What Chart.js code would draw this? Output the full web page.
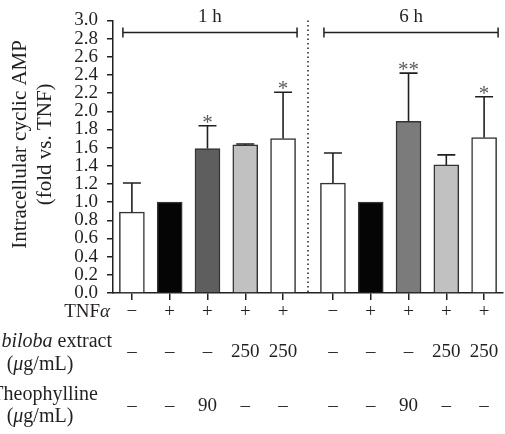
<!DOCTYPE html>
<html>
<head>
<meta charset="utf-8">
<script src="https://cdn.jsdelivr.net/npm/chart.js@4"></script>
<style>
  html, body { margin: 0; padding: 0; background: #fff; }
  #wrap { width: 505px; height: 434px; }
</style>
</head>
<body>
<div id="wrap"><canvas id="grafico"></canvas></div>
<script>
// datos
const grupos = ['1 h', '6 h'];
const tnf = ['−', '+', '+', '+', '+', '−', '+', '+', '+', '+'];
const ginkgo = ['–', '–', '–', '250', '250', '–', '–', '–', '250', '250'];
const teofilina = ['–', '–', '90', '–', '–', '–', '–', '90', '–', '–'];
const medias = [0.89, 1.0, 1.59, 1.63, 1.70, 1.21, 1.0, 1.89, 1.41, 1.71];
const errores = [0.32, 0, 0.25, 0.01, 0.51, 0.33, 0, 0.53, 0.11, 0.45];
const significancia = ['', '', '*', '', '*', '', '', '**', '', '*'];
const colores = ['#ffffff', '#050505', '#5e5e5e', '#c1c1c1', '#ffffff',
                 '#ffffff', '#050505', '#7b7b7b', '#c1c1c1', '#ffffff'];
const tituloY = ['Intracellular cyclic AMP', '(fold vs. TNF)'];

const porGrupo = 5;
const hueco = 0.32;
const posX = medias.map((_, i) => i + (i >= porGrupo ? hueco : 0));
const tinta = '#231f20';
const serif = '"Liberation Serif", "Times New Roman", serif';

function fuente(cursiva, size) {
  return (cursiva ? 'italic ' : '') + size + 'px ' + serif;
}

function textoMixto(ctx, partes, x, y, align, size) {
  let ancho = 0;
  partes.forEach(p => { ctx.font = fuente(p[1], size); ancho += ctx.measureText(p[0]).width; });
  let x0 = align === 'right' ? x - ancho : x - ancho / 2;
  ctx.textAlign = 'left';
  ctx.textBaseline = 'middle';
  partes.forEach(p => {
    ctx.font = fuente(p[1], size);
    ctx.fillText(p[0], x0, y);
    x0 += ctx.measureText(p[0]).width;
  });
}

const extras = {
  id: 'extras',
  afterDatasetsDraw(chart) {
    const ctx = chart.ctx;
    const xs = chart.scales.x, ys = chart.scales.y;
    const area = chart.chartArea;
    ctx.save();

    // barras de error (solo hacia arriba)
    ctx.strokeStyle = tinta;
    ctx.lineWidth = 1.6;
    medias.forEach((m, i) => {
      if (!errores[i]) return;
      const px = xs.getPixelForValue(posX[i]);
      const base = ys.getPixelForValue(m);
      const top = ys.getPixelForValue(m + errores[i]);
      ctx.beginPath();
      ctx.moveTo(px, base); ctx.lineTo(px, top);
      ctx.moveTo(px - 9, top); ctx.lineTo(px + 9, top);
      ctx.stroke();
    });

    // asteriscos
    ctx.fillStyle = '#5a5a5a';
    ctx.font = fuente(false, 21);
    ctx.textAlign = 'center';
    ctx.textBaseline = 'alphabetic';
    significancia.forEach((s, i) => {
      if (!s) return;
      const px = xs.getPixelForValue(posX[i]);
      const top = ys.getPixelForValue(medias[i] + errores[i]);
      ctx.fillText(s, px, top + 3);
    });

    // separador punteado
    const sep = (xs.getPixelForValue(posX[porGrupo - 1]) + xs.getPixelForValue(posX[porGrupo])) / 2;
    ctx.strokeStyle = tinta;
    ctx.lineWidth = 1.5;
    ctx.setLineDash([1.5, 3]);
    ctx.beginPath();
    ctx.moveTo(sep, area.top); ctx.lineTo(sep, area.bottom);
    ctx.stroke();
    ctx.setLineDash([]);

    // corchetes de tiempo
    ctx.lineWidth = 1.5;
    grupos.forEach((g, k) => {
      const x1 = xs.getPixelForValue(posX[k * porGrupo]) - 9;
      const x2 = xs.getPixelForValue(posX[k * porGrupo + porGrupo - 1]) + 14;
      const yb = area.top + 12;
      ctx.beginPath();
      ctx.moveTo(x1, yb); ctx.lineTo(x2, yb);
      ctx.moveTo(x1, yb - 5); ctx.lineTo(x1, yb + 5);
      ctx.moveTo(x2, yb - 5); ctx.lineTo(x2, yb + 5);
      ctx.stroke();
      ctx.fillStyle = tinta;
      ctx.font = fuente(false, 19);
      ctx.textAlign = 'center';
      ctx.textBaseline = 'middle';
      ctx.fillText(g, (x1 + x2) / 2, area.top - 3);
    });
    ctx.restore();
  },
  afterDraw(chart) {
    const ctx = chart.ctx;
    const area = chart.chartArea;
    ctx.save();
    ctx.fillStyle = tinta;

    // título del eje y
    ctx.font = fuente(false, 21);
    ctx.textAlign = 'center';
    ctx.textBaseline = 'middle';
    tituloY.forEach((t, k) => {
      ctx.save();
      ctx.translate(20 + k * 25, area.top + 124);
      ctx.rotate(-Math.PI / 2);
      ctx.fillText(t, 0, 0);
      ctx.restore();
    });

    // etiquetas de las filas de la tabla
    const b = area.bottom;
    textoMixto(ctx, [['TNF', false], ['α', true]], area.left - 3, b + 19, 'right', 19);
    textoMixto(ctx, [['Ginkgo biloba', true], [' extract', false]], area.left - 1, b + 49, 'right', 20);
    textoMixto(ctx, [['(', false], ['μ', true], ['g/mL)', false]], 40, b + 72, 'center', 20);
    textoMixto(ctx, [['Theophylline', false]], area.left - 15, b + 102, 'right', 20);
    textoMixto(ctx, [['(', false], ['μ', true], ['g/mL)', false]], 40, b + 124, 'center', 20);
    ctx.restore();
  }
};

new Chart(document.getElementById('grafico'), {
  type: 'bar',
  data: {
    datasets: [{
      data: medias.map((m, i) => ({ x: posX[i], y: m })),
      backgroundColor: colores,
      borderColor: '#333',
      borderWidth: 1.5,
      borderSkipped: 'bottom',
      barThickness: 25
    }]
  },
  options: {
    responsive: true,
    maintainAspectRatio: false,
    animation: false,
    layout: { padding: { top: 20, right: 2, left: 0, bottom: 0 } },
    plugins: {
      legend: { display: false },
      tooltip: { enabled: false }
    },
    scales: {
      x: {
        type: 'linear',
        offset: false,
        min: -0.5,
        max: 9 + hueco + 0.5,
        afterBuildTicks: axis => { axis.ticks = posX.map(v => ({ value: v })); },
        afterFit: axis => {
          axis.height = 141;
          axis.paddingLeft = 0;
          axis.paddingRight = 0;
        },
        grid: { offset: false, drawOnChartArea: false, tickLength: 7, color: tinta, lineWidth: 1.5 },
        border: { color: tinta, width: 1.5 },
        ticks: {
          autoSkip: false,
          maxRotation: 0,
          padding: 5,
          color: tinta,
          font: { family: serif, size: 19, lineHeight: '13.5px' },
          callback: (v, i) => [tnf[i], '', '', ginkgo[i], '', '', '', teofilina[i]]
        }
      },
      y: {
        min: 0,
        max: 3,
        afterFit: axis => { axis.width = 113; },
        grid: { drawOnChartArea: false, tickLength: 6, color: tinta, lineWidth: 1.5 },
        border: { color: tinta, width: 1.5 },
        ticks: {
          stepSize: 0.2,
          autoSkip: false,
          padding: 9,
          color: tinta,
          font: { family: serif, size: 19 },
          callback: v => v.toFixed(1)
        }
      }
    }
  },
  plugins: [extras]
});
</script>
</body>
</html>
